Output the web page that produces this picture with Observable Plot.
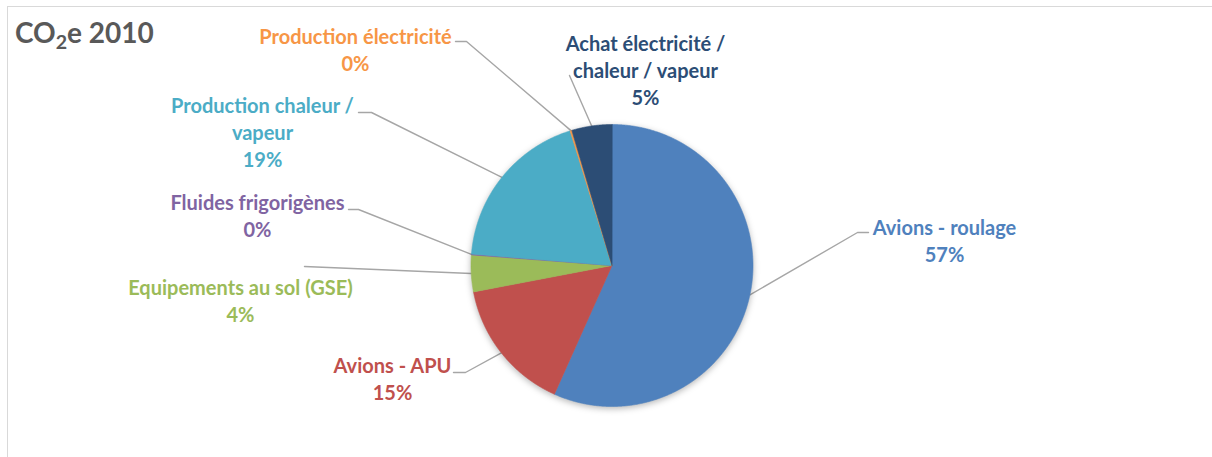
<!DOCTYPE html>
<html>
<head>
<meta charset="utf-8">
<script src="https://cdn.jsdelivr.net/npm/d3@7"></script>
<script src="https://cdn.jsdelivr.net/npm/@observablehq/plot@0.6"></script>
<style>
  body { margin: 0; background: #fff; }
  #wrap { position: relative; width: 1212px; height: 457px; overflow: hidden; font-family: Lato, "Open Sans", sans-serif; }
  #frame { position: absolute; left: 7px; top: 6px; right: -2px; bottom: -2px; border-top: 1.5px solid #d9d9d9; border-left: 1.5px solid #d9d9d9; }
  #title { position: absolute; left: 15px; top: 18px; font-size: 28px; line-height: 1; font-weight: bold; color: #595959; white-space: nowrap; }
  #title sub { font-size: 0.7em; vertical-align: -0.3em; line-height: 0; }
  #chart { position: absolute; left: 0; top: 0; }
</style>
</head>
<body>
<div id="wrap">
  <div id="frame"></div>
  <div id="chart"></div>
  <div id="title">CO<sub>2</sub>e 2010</div>
</div>
<script>
// ---- data ----
const categories = [
  "Avions - roulage",
  "Avions - APU",
  "Equipements au sol (GSE)",
  "Fluides frigorigènes",
  "Production chaleur / vapeur",
  "Production électricité",
  "Achat électricité / chaleur / vapeur"
];
const values = [56.7, 15.3, 4.2, 0.1, 18.9, 0.2, 4.6];
// wrapped label text as shown on the chart
const labelLines = [
  "Avions - roulage",
  "Avions - APU",
  "Equipements au sol (GSE)",
  "Fluides frigorigènes",
  "Production chaleur /\nvapeur",
  "Production électricité",
  "Achat électricité /\nchaleur / vapeur"
];

// ---- styles / layout ----
const colors = ["#4f81bd", "#c0504d", "#9bbb59", "#8064a2", "#4bacc6", "#f79646", "#2c4d75"];
const W = 1212, H = 457;
const cx = 611.5, cy = 265, R = 141;
const labelPos = [[944, 239], [392, 377.5], [240, 299.5], [257, 214.5], [262, 131], [355, 48.5], [645, 69]];
const leaderStart = [
  [[868, 232], [857, 232]],
  [[453, 372], [465, 372]],
  [[304, 266]],
  [[348, 209], [358, 209]],
  [[358, 112], [371, 112]],
  [[455, 41], [466, 41]],
  [[569, 75]]
];

const total = d3.sum(values);
const arcs = d3.pie().sort(null).value(d => d)(values);

const slices = arcs.flatMap((a, i) => {
  const pts = [{k: i, x: cx, y: cy}];
  const n = Math.max(2, Math.ceil((a.endAngle - a.startAngle) / 0.005));
  for (let j = 0; j <= n; j++) {
    const t = a.startAngle + (a.endAngle - a.startAngle) * j / n;
    pts.push({k: i, x: cx + R * Math.sin(t), y: cy - R * Math.cos(t)});
  }
  return pts;
});

const leaders = arcs.flatMap((a, i) => {
  const m = (a.startAngle + a.endAngle) / 2;
  const pts = leaderStart[i].map(([x, y]) => ({k: i, x, y}));
  pts.push({k: i, x: cx + R * Math.sin(m), y: cy - R * Math.cos(m)});
  return pts;
});

const labels = categories.map((c, i) => ({
  k: i,
  x: labelPos[i][0],
  y: labelPos[i][1],
  text: labelLines[i] + "\n" + Math.round(values[i] / total * 100) + "%"
}));

const chart = Plot.plot({
  width: W,
  height: H,
  margin: 0,
  x: {domain: [0, W], range: [0, W], axis: null},
  y: {domain: [0, H], range: [0, H], axis: null},
  style: {background: "transparent", overflow: "visible"},
  marks: [
    Plot.line(leaders, {x: "x", y: "y", z: "k", stroke: "#a6a6a6", strokeWidth: 1.4}),
    Plot.line(slices, {
      x: "x", y: "y", z: "k",
      fill: d => colors[d.k],
      stroke: d => colors[d.k],
      strokeWidth: 0.6,
      curve: "linear-closed",
      imageFilter: "drop-shadow(0px 2px 3px rgba(0,0,0,0.28))"
    }),
    Plot.text(labels, {
      x: "x", y: "y", text: "text",
      fill: d => colors[d.k],
      fontSize: 20,
      fontWeight: "bold",
      fontFamily: "Lato, 'Open Sans', sans-serif",
      lineHeight: 1.35,
      textAnchor: "middle",
      lineAnchor: "middle"
    })
  ]
});
document.getElementById("chart").append(chart);
</script>
</body>
</html>
